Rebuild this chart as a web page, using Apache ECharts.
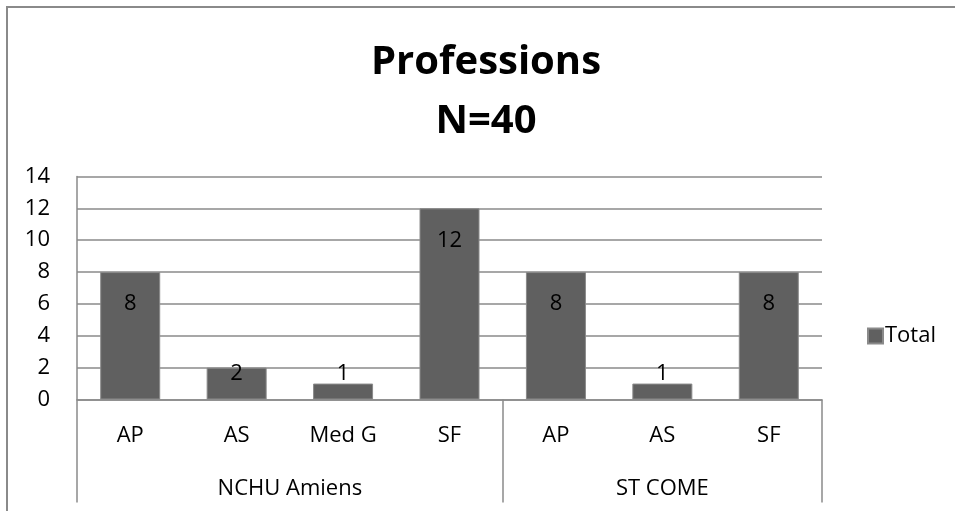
<!DOCTYPE html>
<html>
<head>
<meta charset="utf-8">
<script src="https://cdn.jsdelivr.net/npm/echarts@6/dist/echarts.min.js"></script>
<style>
  html, body { margin: 0; padding: 0; background: #fff; }
  #chart { width: 955px; height: 511px; position: absolute; left: 0; top: 0; }
  #frame { position: absolute; left: 6px; top: 6px; width: 960px; height: 520px;
           border-left: 2px solid #8a8a8a; border-top: 2px solid #8a8a8a; pointer-events: none; }
</style>
</head>
<body>
<div id="chart"></div>
<div id="frame"></div>
<script>
// ---- data ----
const titleText = 'Professions\nN=40';
const groups = ['NCHU Amiens', 'ST COME'];
const groupSubs = [
  ['AP', 'AS', 'Med G', 'SF'],
  ['AP', 'AS', 'SF']
];
const totalValues = [8, 2, 1, 12, 8, 1, 8];
const seriesName = 'Total';
const yTicks = [0, 2, 4, 6, 8, 10, 12, 14];

// ---- derived ----
const categories = [].concat(...groupSubs);
const boundaries = [0];
groupSubs.forEach(g => boundaries.push(boundaries[boundaries.length - 1] + g.length));
const groupCenters = groupSubs.map((g, i) => (boundaries[i] + boundaries[i + 1]) / 2);

const FONT = '"Open Sans", "Noto Sans", sans-serif';
const FS = 22;

function labelFor(v) {
  if (v >= 4) return { position: 'insideTop', distance: 21 };
  if (v >= 2) return { position: 'insideTop', distance: -5 };
  return { position: 'top', distance: -1 };
}

const chart = echarts.init(document.getElementById('chart'), null, { renderer: 'canvas' });
chart.setOption({
  animation: false,
  backgroundColor: '#fff',
  title: {
    text: titleText,
    left: 481,
    top: 28,
    textAlign: 'center',
    textStyle: { fontFamily: FONT, fontWeight: 'bold', fontSize: 40, lineHeight: 59, color: '#000' }
  },
  legend: {
    data: [seriesName],
    left: 862,
    top: 320,
    icon: 'rect',
    itemWidth: 15,
    itemHeight: 15,
    itemGap: 5,
    textStyle: { fontFamily: FONT, fontSize: FS, color: '#000', padding: [0, 0, 0, -3] }
  },
  grid: { left: 77, right: 133, top: 176.5, bottom: 111.5, containLabel: false },
  xAxis: [
    {
      type: 'category',
      data: categories,
      position: 'bottom',
      axisLine: { show: true, lineStyle: { color: '#8a8a8a', width: 1.5 } },
      axisTick: { show: false },
      axisLabel: { fontFamily: FONT, fontSize: FS, color: '#000', margin: 25, interval: 0 },
      splitLine: { show: false }
    },
    {
      type: 'value',
      min: 0,
      max: categories.length,
      position: 'bottom',
      axisLine: { show: false },
      axisTick: { show: true, customValues: boundaries, length: 103, lineStyle: { color: '#8a8a8a', width: 1.5 } },
      axisLabel: {
        show: true,
        customValues: groupCenters,
        formatter: v => { const i = groupCenters.indexOf(v); return i >= 0 ? groups[i] : ''; },
        fontFamily: FONT, fontSize: FS, color: '#000', margin: 78
      },
      splitLine: { show: false }
    }
  ],
  yAxis: {
    type: 'value',
    min: yTicks[0],
    max: yTicks[yTicks.length - 1],
    interval: yTicks[1] - yTicks[0],
    axisLine: { show: true, lineStyle: { color: '#8a8a8a', width: 1.5 } },
    axisTick: { show: false },
    axisLabel: { fontFamily: FONT, fontSize: FS, color: '#000', margin: 27 },
    splitLine: { show: true, lineStyle: { color: '#8a8a8a', width: 1.5 } }
  },
  series: [{
    name: seriesName,
    type: 'bar',
    xAxisIndex: 0,
    barWidth: 60,
    itemStyle: { color: '#606060', borderColor: '#8a8a8a', borderWidth: 1 },
    label: { show: true, fontFamily: FONT, fontSize: FS, color: '#000' },
    data: totalValues.map(v => ({ value: v, label: labelFor(v) }))
  }]
});
</script>
</body>
</html>
